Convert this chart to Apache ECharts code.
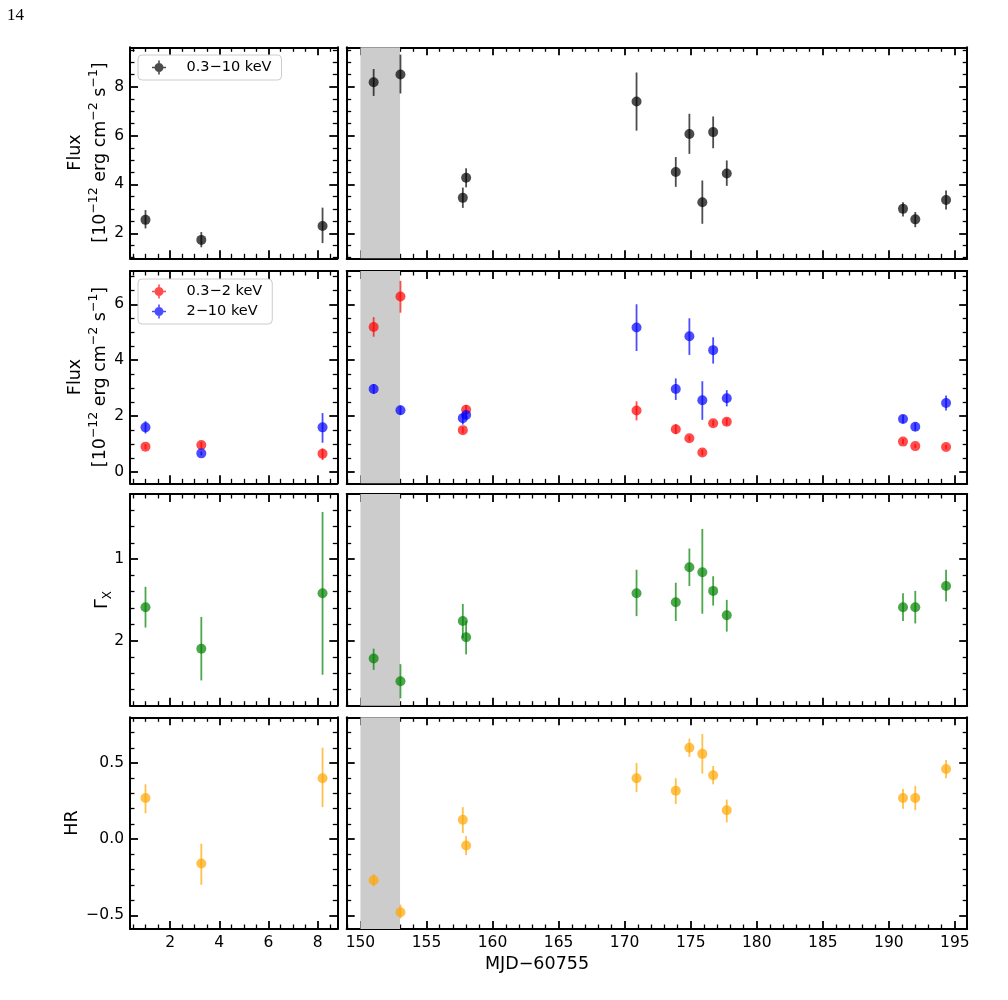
<!DOCTYPE html>
<html>
<head>
<meta charset="utf-8">
<script src="https://cdn.jsdelivr.net/npm/echarts@6/dist/echarts.min.js"></script>
<style>
html, body { margin: 0; padding: 0; background: #fff; }
#main { width: 1008px; height: 1000px; }
</style>
</head>
<body>
<div id="main"></div>
<script>
// time of each observation (MJD-60755), first three belong to the left panel
var mjd = [1.0, 3.27, 8.2, 151.0, 153.03, 157.75, 158.0, 170.9, 173.87, 174.9, 175.88, 176.7, 177.73, 191.07, 192.0, 194.33];

// 0.3-10 keV flux
var fluxTot   = [2.55, 1.73, 2.30, 8.18, 8.50, 3.45, 4.27, 7.39, 4.51, 6.06, 3.27, 6.14, 4.45, 3.00, 2.57, 3.36];
var fluxTotLo = [2.20, 1.43, 1.60, 7.62, 7.72, 3.04, 3.88, 6.20, 3.90, 5.25, 2.39, 5.48, 3.94, 2.69, 2.25, 2.97];
var fluxTotHi = [2.95, 2.05, 3.05, 8.72, 9.31, 3.87, 4.66, 8.58, 5.12, 6.89, 4.16, 6.78, 4.98, 3.27, 2.87, 3.75];

// 0.3-2 keV flux
var fluxSoft   = [0.91, 0.97, 0.66, 5.19, 6.28, 1.50, 2.23, 2.20, 1.53, 1.21, 0.70, 1.75, 1.80, 1.09, 0.93, 0.90];
var fluxSoftLo = [0.82, 0.86, 0.43, 4.84, 5.70, 1.39, 2.07, 1.85, 1.36, 1.12, 0.60, 1.65, 1.68, 1.00, 0.86, 0.83];
var fluxSoftHi = [1.00, 1.08, 0.85, 5.54, 6.84, 1.61, 2.40, 2.53, 1.71, 1.30, 0.80, 1.85, 1.92, 1.18, 1.00, 0.97];

// 2-10 keV flux
var fluxHard   = [1.60, 0.67, 1.60, 2.97, 2.21, 1.93, 2.04, 5.17, 2.97, 4.86, 2.57, 4.36, 2.64, 1.90, 1.62, 2.47];
var fluxHardLo = [1.38, 0.60, 1.05, 2.80, 2.05, 1.70, 1.92, 4.33, 2.58, 4.19, 1.87, 3.88, 2.35, 1.75, 1.48, 2.20];
var fluxHardHi = [1.82, 0.74, 2.11, 3.15, 2.38, 2.10, 2.17, 6.00, 3.35, 5.50, 3.25, 4.82, 2.93, 2.04, 1.77, 2.74];

// photon index
var gamma   = [1.59, 2.10, 1.42, 2.22, 2.50, 1.76, 1.96, 1.42, 1.53, 1.10, 1.16, 1.39, 1.69, 1.59, 1.59, 1.33];
var gammaLo = [1.34, 1.71, 0.42, 2.10, 2.29, 1.55, 1.76, 1.13, 1.29, 0.87, 0.63, 1.21, 1.50, 1.42, 1.39, 1.13];
var gammaHi = [1.84, 2.49, 2.42, 2.36, 2.71, 1.97, 2.17, 1.70, 1.76, 1.33, 1.67, 1.57, 1.89, 1.76, 1.79, 1.52];

// hardness ratio
var hr   = [0.27, -0.16, 0.40, -0.27, -0.48, 0.127, -0.042, 0.40, 0.318, 0.60, 0.56, 0.42, 0.19, 0.27, 0.27, 0.46];
var hrLo = [0.17, -0.30, 0.21, -0.31, -0.52, 0.04, -0.105, 0.31, 0.23, 0.54, 0.43, 0.36, 0.11, 0.20, 0.19, 0.40];
var hrHi = [0.36, -0.03, 0.60, -0.23, -0.43, 0.21, 0.02, 0.50, 0.40, 0.66, 0.69, 0.48, 0.26, 0.33, 0.35, 0.52];

// shaded interval
var band = [150, 153];

// tick labels
var xTicksLeft  = [2, 4, 6, 8];
var xTicksRight = [150, 155, 160, 165, 170, 175, 180, 185, 190, 195];
var yTicksFlux  = [2, 4, 6, 8];
var yTicksBand  = [0, 2, 4, 6];
var yTicksGamma = [1, 2];
var yTicksHR    = [-0.5, 0, 0.5];

var FONT = 'DejaVu Sans';

var rows = [
    { top: 47.3, height: 211, min: 0.977, max: 9.61, major: yTicksFlux, step: 0.5 },
    { top: 271, height: 212.3, min: -0.40, max: 7.19, major: yTicksBand, step: 0.5 },
    { top: 494, height: 211.7, min: 0.2, max: 2.8, major: yTicksGamma, step: 0.2, inverse: true },
    { top: 717.3, height: 211.7, min: -0.59, max: 0.80, major: yTicksHR, step: 0.1,
      fmt: function (v) { return v.toFixed(1).replace('-', '\u2212'); } }
];
var cols = [
    { left: 130, width: 207.3, min: 0.37, max: 8.8, major: xTicksLeft, step: 0.5 },
    { left: 346.7, width: 620.5, min: 148.96, max: 195.93, major: xTicksRight, step: 1 }
];

function minors(min, max, step, major) {
    var out = [];
    var k0 = Math.ceil(min / step - 1e-9), k1 = Math.floor(max / step + 1e-9);
    for (var k = k0; k <= k1; k++) {
        var v = +(k * step).toFixed(6);
        if (major.indexOf(v) < 0 && v > min + 1e-9 && v < max - 1e-9) out.push(v);
    }
    return out;
}

function mkAxis(g, pos, rng, vals, len, showLabel, isMajor) {
    return {
        type: 'value',
        gridIndex: g,
        position: pos,
        min: rng.min,
        max: rng.max,
        inverse: !!rng.inverse,
        axisLine: { show: isMajor, onZero: false, lineStyle: { color: '#000', width: 2 } },
        axisTick: {
            show: true, inside: true, length: len, customValues: vals,
            lineStyle: { color: '#000', width: isMajor ? 1.8 : 1.3 }
        },
        axisLabel: {
            show: showLabel, customValues: vals, margin: 6,
            color: '#000', fontSize: 15.5, fontFamily: FONT,
            formatter: rng.fmt || function (v) { return String(v); }
        },
        splitLine: { show: false },
        minorTick: { show: false }
    };
}

var grids = [], xAxes = [], yAxes = [];
rows.forEach(function (row, r) {
    cols.forEach(function (col, c) {
        var g = r * 2 + c;
        grids.push({ left: col.left, top: row.top, width: col.width, height: row.height });
        var xMin = minors(col.min, col.max, col.step, col.major);
        var yMin = minors(row.min, row.max, row.step, row.major);
        ['bottom', 'top'].forEach(function (pos) {
            xAxes.push(mkAxis(g, pos, col, col.major, 8, pos === 'bottom' && r === 3, true));
            xAxes.push(mkAxis(g, pos, col, xMin, 4.5, false, false));
        });
        ['left', 'right'].forEach(function (pos) {
            yAxes.push(mkAxis(g, pos, row, row.major, 8, pos === 'left' && c === 0, true));
            yAxes.push(mkAxis(g, pos, row, yMin, 4.5, false, false));
        });
    });
});

function errRender(color) {
    return function (params, api) {
        var x = api.value(0);
        var p = api.coord([x, api.value(1)]);
        var a = api.coord([x, api.value(2)]);
        var b = api.coord([x, api.value(3)]);
        return {
            type: 'group',
            children: [
                { type: 'line', shape: { x1: a[0], y1: a[1], x2: b[0], y2: b[1] },
                  style: { stroke: color, lineWidth: 1.8 } },
                { type: 'circle', shape: { cx: p[0], cy: p[1], r: 5 }, style: { fill: color } }
            ]
        };
    };
}

var series = [];
function addErr(name, row, vals, lo, hi, color) {
    [0, 1].forEach(function (c) {
        var g = row * 2 + c;
        var data = [];
        for (var i = 0; i < mjd.length; i++) {
            if ((mjd[i] < 100) === (c === 0)) data.push([mjd[i], vals[i], lo[i], hi[i]]);
        }
        series.push({
            name: name, type: 'custom', xAxisIndex: 4 * g, yAxisIndex: 4 * g,
            itemStyle: { color: color }, z: 3,
            renderItem: errRender(color), data: data
        });
    });
}

// gray band in every right-hand panel
for (var r = 0; r < 4; r++) {
    var g = r * 2 + 1;
    series.push({
        name: 'band', type: 'line', xAxisIndex: 4 * g, yAxisIndex: 4 * g, data: [], z: 1,
        markArea: { silent: true, itemStyle: { color: '#cccccc' },
                    data: [[{ xAxis: band[0] }, { xAxis: band[1] }]] }
    });
}

var cBlack = 'rgba(0,0,0,0.7)', cRed = 'rgba(255,0,0,0.7)', cBlue = 'rgba(0,0,255,0.7)';
var cGreen = 'rgba(0,128,0,0.7)', cOrange = 'rgba(255,165,0,0.7)';
addErr('0.3\u221210 keV', 0, fluxTot, fluxTotLo, fluxTotHi, cBlack);
addErr('0.3\u22122 keV', 1, fluxSoft, fluxSoftLo, fluxSoftHi, cRed);
addErr('2\u221210 keV', 1, fluxHard, fluxHardLo, fluxHardHi, cBlue);
addErr('Gamma', 2, gamma, gammaLo, gammaHi, cGreen);
addErr('HR', 3, hr, hrLo, hrHi, cOrange);

var icon = 'path://M7.2,0H8.8V14H7.2Z M1,6.2H15V7.8H1Z M12.5,7A4.5,4.5,0,1,1,3.5,7A4.5,4.5,0,1,1,12.5,7Z';
function mkLegend(top, names, colors) {
    return {
        orient: 'vertical', left: 138, top: top, selectedMode: false,
        padding: [5, 10, 5, 14], itemWidth: 15, itemHeight: 14, itemGap: 5,
        borderColor: '#cccccc', borderWidth: 1, borderRadius: 4,
        backgroundColor: 'rgba(255,255,255,0.8)',
        textStyle: { fontFamily: FONT, fontSize: 14.5, color: '#000', padding: [0, 0, 0, 15] },
        data: names.map(function (n, i) {
            return { name: n, icon: icon, itemStyle: { color: colors[i] } };
        })
    };
}

var labelFont = '17.5px "DejaVu Sans"';
var fluxRich = {
    n: { fontFamily: FONT, fontSize: 17.5, lineHeight: 25 },
    sup: { fontFamily: FONT, fontSize: 12.5, lineHeight: 13, verticalAlign: 'top' }
};
var fluxText = '{n|Flux}\n{n|[10}{sup|\u221212}{n| erg cm}{sup|\u22122}{n| s}{sup|\u22121}{n|]}';

var option = {
    animation: false,
    backgroundColor: '#fff',
    grid: grids,
    xAxis: xAxes,
    yAxis: yAxes,
    legend: [
        mkLegend(55, ['0.3\u221210 keV'], [cBlack]),
        mkLegend(279, ['0.3\u22122 keV', '2\u221210 keV'], [cRed, cBlue])
    ],
    graphic: [
        { type: 'text', left: 7, top: 7,
          style: { text: '14', font: '17px "Liberation Serif"', fill: '#000' } },
        { type: 'text', x: 87.5, y: 152.5, rotation: Math.PI / 2,
          style: { text: fluxText, rich: fluxRich, fill: '#000', align: 'center', verticalAlign: 'middle' } },
        { type: 'text', x: 87.5, y: 377, rotation: Math.PI / 2,
          style: { text: fluxText, rich: fluxRich, fill: '#000', align: 'center', verticalAlign: 'middle' } },
        { type: 'text', x: 102, y: 600, rotation: Math.PI / 2,
          style: { text: '{g|\u0393}{s|X}', fill: '#000', align: 'center', verticalAlign: 'middle',
                   rich: { g: { fontFamily: FONT, fontSize: 17.5, lineHeight: 24 },
                           s: { fontFamily: FONT, fontSize: 12, lineHeight: 12, verticalAlign: 'bottom' } } } },
        { type: 'text', x: 72, y: 823, rotation: Math.PI / 2,
          style: { text: 'HR', font: labelFont, fill: '#000', align: 'center', verticalAlign: 'middle' } },
        { type: 'text', x: 537, y: 964,
          style: { text: 'MJD\u221260755', font: labelFont, fill: '#000', align: 'center', verticalAlign: 'middle' } }
    ],
    series: series
};

var chart = echarts.init(document.getElementById('main'));
chart.setOption(option);
</script>
</body>
</html>
